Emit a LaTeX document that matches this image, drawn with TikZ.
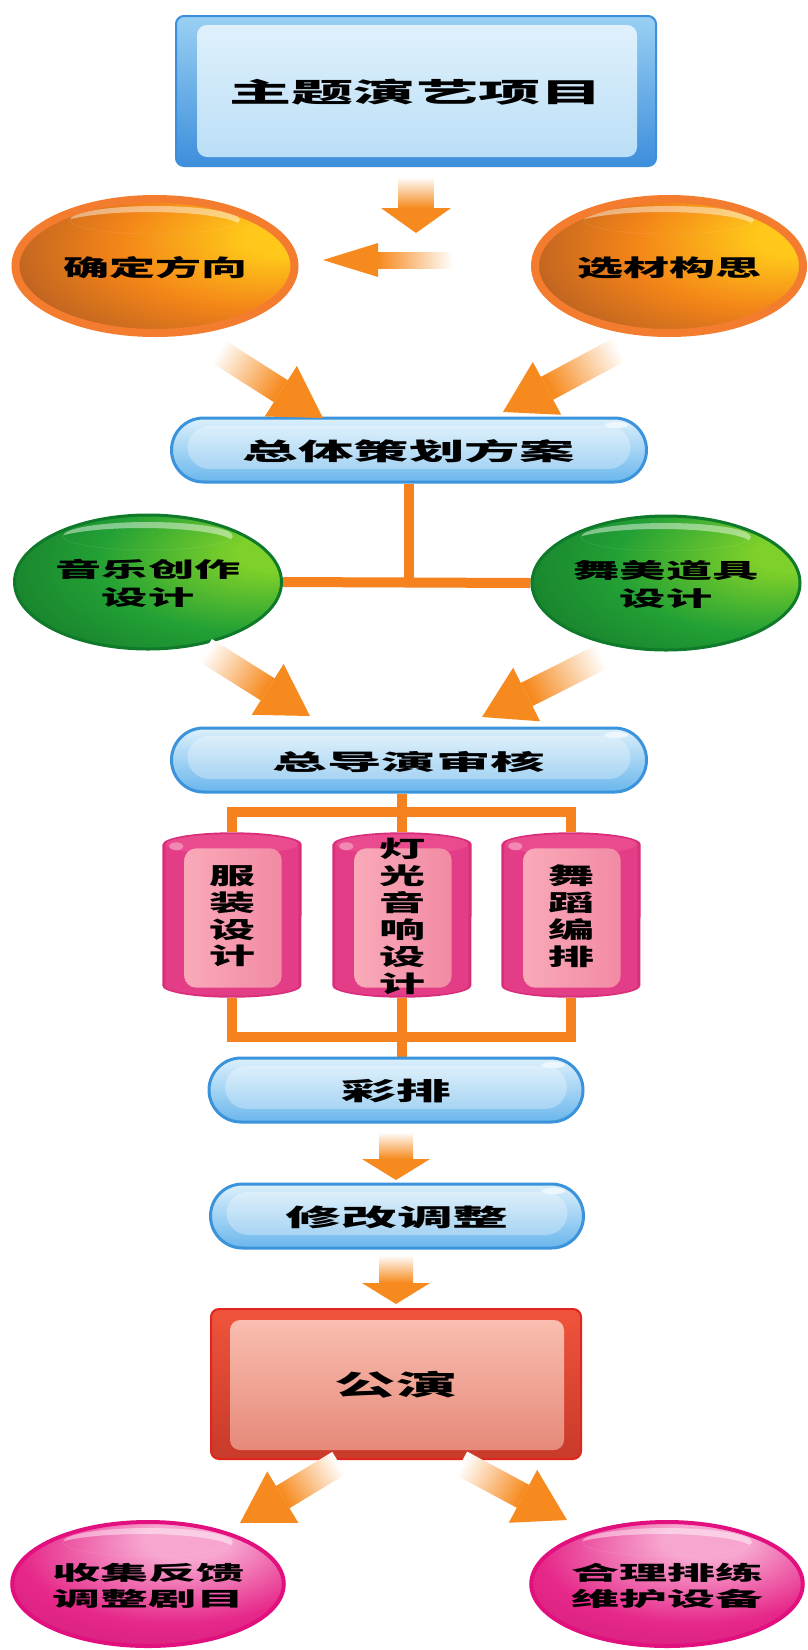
\documentclass[tikz,border=0pt]{standalone}
\usepackage{fontspec}
\newfontfamily\cjk{Noto Sans CJK SC Black}
\usepackage{graphicx}
\usetikzlibrary{calc,shapes.geometric}
\definecolor{arrOr}{HTML}{F68A1E}
\definecolor{lineOr}{HTML}{F5821F}
\definecolor{ringO}{HTML}{F37C2E}
\definecolor{oY}{HTML}{FFC81A}
\definecolor{oO}{HTML}{F38418}
\definecolor{oB}{HTML}{86402C}
\definecolor{gL}{HTML}{7ED02A}
\definecolor{gM}{HTML}{22A035}
\definecolor{gD}{HTML}{0A5420}
\definecolor{gEdge}{HTML}{0E7A2A}
\definecolor{pL}{HTML}{F7A6D0}
\definecolor{pM}{HTML}{E62889}
\definecolor{pD}{HTML}{9A0058}
\definecolor{pEdge}{HTML}{E2107F}
\definecolor{pillEdge}{HTML}{3A93DB}
\definecolor{pillTop}{HTML}{DCF0FB}
\definecolor{pillBot}{HTML}{6AB6EC}
\definecolor{boxTop}{HTML}{9AD0F3}
\definecolor{boxBot}{HTML}{3D8EDB}
\definecolor{innTop}{HTML}{E2F2FC}
\definecolor{innBot}{HTML}{B8DDF6}
\definecolor{redEdge}{HTML}{E0251F}
\definecolor{redTop}{HTML}{F0543B}
\definecolor{redBot}{HTML}{C83A2A}
\definecolor{rinTop}{HTML}{FBC2B4}
\definecolor{rinBot}{HTML}{E58676}
\definecolor{cylEdge}{HTML}{D92E7A}
\definecolor{cylDark}{HTML}{E33D88}
\definecolor{cylLight}{HTML}{F07AA6}
\definecolor{cylTop}{HTML}{EA4A8E}
\definecolor{panA}{HTML}{F9AAB8}
\definecolor{panB}{HTML}{F28AA4}
\pgfdeclareradialshading{orangeball}{\pgfpoint{26bp}{12bp}}{color(0bp)=(oY); color(7bp)=(oY); color(24bp)=(oO); color(36bp)=(oO!60!oB); color(48bp)=(oB); color(70bp)=(oB)}
\pgfdeclareradialshading{greenball}{\pgfpoint{26bp}{12bp}}{color(0bp)=(gL); color(7bp)=(gL); color(26bp)=(gM); color(40bp)=(gM!60!gD); color(50bp)=(gD); color(70bp)=(gD)}
\pgfdeclareradialshading{pinkball}{\pgfpoint{8bp}{20bp}}{color(0bp)=(pL); color(8bp)=(pL); color(28bp)=(pM); color(44bp)=(pM!70!pD); color(52bp)=(pD); color(70bp)=(pD)}
\pgfdeclarelayer{bg}
\pgfdeclarelayer{back}
\pgfsetlayers{bg,back,main}
\newcommand\wt[4]{\raisebox{-4pt}[\height][\depth]{\scalebox{#3}[1]{\fontsize{#1}{#2}\selectfont\begin{tabular}{@{}c@{}}#4\end{tabular}}}}
\newcommand\barrow[6]{%
  \coordinate (#2-b) at ($(#2)!#3!(#1)$);
  \shade[top color=white, middle color=arrOr!80, bottom color=arrOr, shading angle=#6]
    ($(#1)!#5!90:(#2)$) -- ($(#2-b)!#5!-90:(#1)$) -- ($(#2-b)!#5!90:(#1)$) -- ($(#1)!#5!-90:(#2)$) -- cycle;
  \fill[arrOr] ($(#2-b)!#4!-90:(#1)$) -- (#2) -- ($(#2-b)!#4!90:(#1)$) -- cycle;}
\newcommand\drawcyl[1]{%
  \fill[cylEdge] ([yshift=-12pt]#1.north west) -- ([yshift=12pt]#1.south west)
    arc[start angle=180,end angle=360,x radius=69.5pt,y radius=12pt]
    -- ([yshift=-12pt]#1.north east)
    arc[start angle=0,end angle=180,x radius=69.5pt,y radius=12pt] -- cycle;
  \shade[left color=cylDark, middle color=cylLight, right color=cylDark]
    ([shift={(3pt,-12pt)}]#1.north west) -- ([shift={(3pt,12pt)}]#1.south west)
    arc[start angle=180,end angle=360,x radius=66.5pt,y radius=10pt]
    -- ([shift={(-3pt,-12pt)}]#1.north east)
    arc[start angle=0,end angle=180,x radius=66.5pt,y radius=10pt] -- cycle;
  \fill[cylTop] ([yshift=-12pt]#1.north) ellipse[x radius=66pt, y radius=10pt];
  \fill[white, opacity=.35] ([shift={(14pt,-14pt)}]#1.north west) ellipse[x radius=7pt, y radius=4pt];
  \shade[left color=panA, right color=panB, rounded corners=12pt]
    ([shift={(22pt,-16pt)}]#1.north west) rectangle ([shift={(-20pt,10pt)}]#1.south east);}
\tikzset{
  txt/.style={font=\cjk, text=black, inner sep=0pt},
  topbox/.style={txt, rectangle, rounded corners=8pt, minimum width=480pt, minimum height=150pt,
    draw=boxBot, line width=2pt, top color=boxTop, bottom color=boxBot,
    path picture={\shade[top color=innTop, bottom color=innBot, rounded corners=10pt]
      ([shift={(21pt,-9pt)}]path picture bounding box.north west) rectangle
      ([shift={(-19pt,9pt)}]path picture bounding box.south east);}},
  redbox/.style={txt, rectangle, rounded corners=8pt, minimum width=370pt, minimum height=150pt,
    draw=redEdge, line width=2pt, top color=redTop, bottom color=redBot,
    path picture={\shade[top color=rinTop, bottom color=rinBot, rounded corners=10pt]
      ([shift={(19pt,-11pt)}]path picture bounding box.north west) rectangle
      ([shift={(-17pt,9pt)}]path picture bounding box.south east);}},
  pill/.style={txt, rectangle, rounded corners=32pt, minimum height=64pt,
    draw=pillEdge, line width=3pt, top color=pillTop, bottom color=pillBot,
    path picture={\fill[white, opacity=.3, rounded corners=22pt]
      ([shift={(16pt,-8pt)}]path picture bounding box.north west) rectangle
      ([shift={(-16pt,13pt)}]path picture bounding box.south east);
      \fill[white, opacity=.6] ([shift={(-30pt,-7pt)}]path picture bounding box.north east) ellipse[x radius=12pt, y radius=3pt];}},
  hilite/.style={path picture={\begin{scope}
      \clip ([yshift=#1]path picture bounding box.center) ellipse[x radius=85pt, y radius=14pt];
      \fill[white, opacity=.45, even odd rule]
        ([yshift=#1]path picture bounding box.center) ellipse[x radius=85pt, y radius=14pt]
        ([shift={(-6pt,#1-7pt)}]path picture bounding box.center) ellipse[x radius=92pt, y radius=15pt];
      \end{scope}}},
  ballO/.style={txt, ellipse, draw=ringO, line width=8pt, shade, shading=orangeball, hilite=46pt},
  ballG/.style={txt, ellipse, draw=gEdge, line width=3pt, shade, shading=greenball, hilite=46pt},
  ballP/.style={txt, ellipse, draw=pEdge, line width=4pt, shade, shading=pinkball, hilite=42pt},
  cylnode/.style={txt, rectangle, minimum width=139pt, minimum height=165pt},
  bus/.style={draw=lineOr, line width=10pt}
}
\begin{document}
\begin{tikzpicture}[x=1pt,y=-1pt]
\useasboundingbox (0,0) rectangle (808,1650);
\begin{pgfonlayer}{bg}
\fill[white] (0,0) rectangle (808,1650);
\end{pgfonlayer}
% nodes
\node[topbox] (theme) at (416,91) {\wt{27pt}{27pt}{2.3}{主题演艺项目}};
\node[ballO, minimum width=279pt, minimum height=134pt] (dir) at (155,266) {\wt{23pt}{23pt}{2.0}{确定方向}};
\node[ballO, minimum width=268pt, minimum height=134pt] (idea) at (669,266) {\wt{23pt}{23pt}{2.0}{选材构思}};
\node[pill, minimum width=475pt] (plan) at (409,450) {\wt{24pt}{24pt}{2.31}{总体策划方案}};
\node[ballG, minimum width=267pt, minimum height=134pt] (music) at (148,582) {\wt{21pt}{28pt}{2.2}{音乐创作\\设计}};
\node[ballG, minimum width=268pt, minimum height=134pt] (props) at (666,583) {\wt{21pt}{28pt}{2.2}{舞美道具\\设计}};
\node[pill, minimum width=475pt] (review) at (409,760) {\wt{22pt}{22pt}{2.48}{总导演审核}};
\node[cylnode] (c1) at (232,915) {\wt{23pt}{24pt}{2.0}{服\\装\\设\\计}};
\node[cylnode] (c2) at (402,915) {\wt{23pt}{24pt}{2.0}{灯\\光\\音\\响\\设\\计}};
\node[cylnode] (c3) at (571,915) {\wt{23pt}{24pt}{2.0}{舞\\蹈\\编\\排}};
\node[pill, minimum width=374pt] (rehearsal) at (396,1090) {\wt{25pt}{25pt}{2.19}{彩排}};
\node[pill, minimum width=373pt] (adjust) at (397,1216) {\wt{24pt}{24pt}{2.33}{修改调整}};
\node[redbox] (show) at (396,1384) {\wt{28pt}{28pt}{2.19}{公演}};
\node[ballP, minimum width=267pt, minimum height=124pt] (feed) at (148,1584) {\wt{20pt}{26pt}{2.4}{收集反馈\\调整剧目}};
\node[ballP, minimum width=269pt, minimum height=124pt] (maint) at (667,1584) {\wt{20pt}{26pt}{2.4}{合理排练\\维护设备}};
% connector lines and cylinders (behind texts)
\coordinate (busT) at (402,812);
\coordinate (busB) at (402,1037);
\begin{pgfonlayer}{back}
\draw[bus] (plan.south) -- (plan.south |- music.east);
\draw[bus] (music.east) -- (props.west);
\draw[bus] (review.south -| c2.north) -- (c2.north);
\draw[bus, line join=miter] (c1.north) -- (c1.north |- busT) -- (c3.north |- busT) -- (c3.north);
\draw[bus, line join=miter] (c1.south) -- (c1.south |- busB) -- (c3.south |- busB) -- (c3.south);
\draw[bus] (c2.south) -- (rehearsal.north -| c2.south);
\drawcyl{c1}
\drawcyl{c2}
\drawcyl{c3}
\end{pgfonlayer}
% block arrows
\coordinate (a1s) at (416,177);  \coordinate (a1t) at (416,233);
\coordinate (a2s) at (453,260);  \coordinate (a2t) at (323,260);
\coordinate (a3s) at (216,350);  \coordinate (a3t) at (323,418);
\coordinate (a4s) at (622,348);  \coordinate (a4t) at (503,412);
\coordinate (a5s) at (205,650);  \coordinate (a5t) at (310,716);
\coordinate (a6s) at (605,655);  \coordinate (a6t) at (482,717);
\coordinate (a7s) at (396,1132); \coordinate (a7t) at (396,1180);
\coordinate (a8s) at (396,1255); \coordinate (a8t) at (396,1304);
\coordinate (a9s) at (339,1463); \coordinate (a9t) at (240,1523);
\coordinate (a10s) at (461,1463); \coordinate (a10t) at (567,1520);
\barrow{a1s}{a1t}{25pt}{35pt}{17.5pt}{0}
\barrow{a2s}{a2t}{55pt}{17pt}{8pt}{270}
\barrow{a3s}{a3t}{50pt}{30pt}{13pt}{57.8}
\barrow{a4s}{a4t}{50pt}{30pt}{13pt}{-62.1}
\barrow{a5s}{a5t}{50pt}{30pt}{13pt}{58.1}
\barrow{a6s}{a6t}{50pt}{30pt}{13pt}{-63.6}
\barrow{a7s}{a7t}{21pt}{34pt}{17pt}{0}
\barrow{a8s}{a8t}{21pt}{34pt}{17pt}{0}
\barrow{a9s}{a9t}{50pt}{30pt}{13pt}{-59.1}
\barrow{a10s}{a10t}{50pt}{30pt}{13pt}{62.1}
\end{tikzpicture}
\end{document}
